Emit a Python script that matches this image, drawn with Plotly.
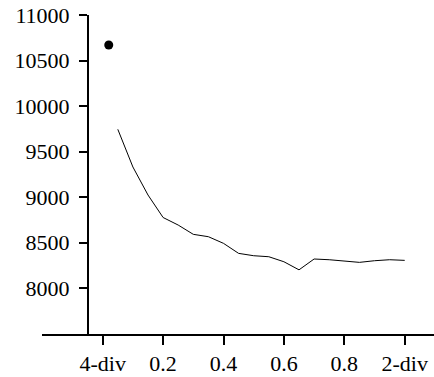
import plotly.graph_objects as go

# Data
dot_x = [0.02]
dot_y = [10670]

line_x = [0.05, 0.10, 0.15, 0.20, 0.25, 0.30, 0.35, 0.40, 0.45, 0.50,
          0.55, 0.60, 0.65, 0.70, 0.75, 0.80, 0.85, 0.90, 0.95, 1.00]
line_y = [9744, 9330, 9022, 8775, 8692, 8590, 8564, 8491, 8381, 8355,
          8344, 8289, 8200, 8319, 8311, 8297, 8282, 8300, 8311, 8304]

x_tickvals = [0.0, 0.2, 0.4, 0.6, 0.8, 1.0]
x_ticktext = ["4-div", "0.2", "0.4", "0.6", "0.8", "2-div"]
y_tickvals = [8000, 8500, 9000, 9500, 10000, 10500, 11000]
y_ticktext = ["8000", "8500", "9000", "9500", "10000", "10500", "11000"]

FONT = "Liberation Serif"

fig = go.Figure()
fig.add_trace(go.Scatter(x=line_x, y=line_y, mode="lines",
                         line=dict(color="black", width=1), showlegend=False))
fig.add_trace(go.Scatter(x=dot_x, y=dot_y, mode="markers",
                         marker=dict(color="black", size=9), showlegend=False))

fig.update_layout(
    width=434, height=377,
    margin=dict(l=42, r=0, t=15, b=43),
    paper_bgcolor="white", plot_bgcolor="white",
    font=dict(family=FONT, size=22, color="black"),
    xaxis=dict(range=[-0.201, 1.097], tickvals=x_tickvals, ticktext=x_ticktext,
               showline=True, linecolor="black", linewidth=2,
               ticks="outside", ticklen=9, tickwidth=2, tickcolor="black",
               tickfont=dict(family=FONT, size=22, color="black"),
               showgrid=False, zeroline=False, ticklabelstandoff=0,
               ticklabeloverflow="allow", automargin=False),
    yaxis=dict(range=[7495, 11000], tickvals=y_tickvals, ticktext=y_ticktext,
               anchor="free", position=0.1173,
               showline=True, linecolor="black", linewidth=2,
               ticks="outside", ticklen=8, tickwidth=2, tickcolor="black",
               tickfont=dict(family=FONT, size=22, color="black"),
               showgrid=False, zeroline=False, ticklabelstandoff=5,
               ticklabeloverflow="allow", automargin=False),
)

# remove the browser's default 8px body margin so the figure fills the window exactly
fig.write_html("out.html", config={"displayModeBar": False},
               post_script="document.body.style.margin='0px';")
